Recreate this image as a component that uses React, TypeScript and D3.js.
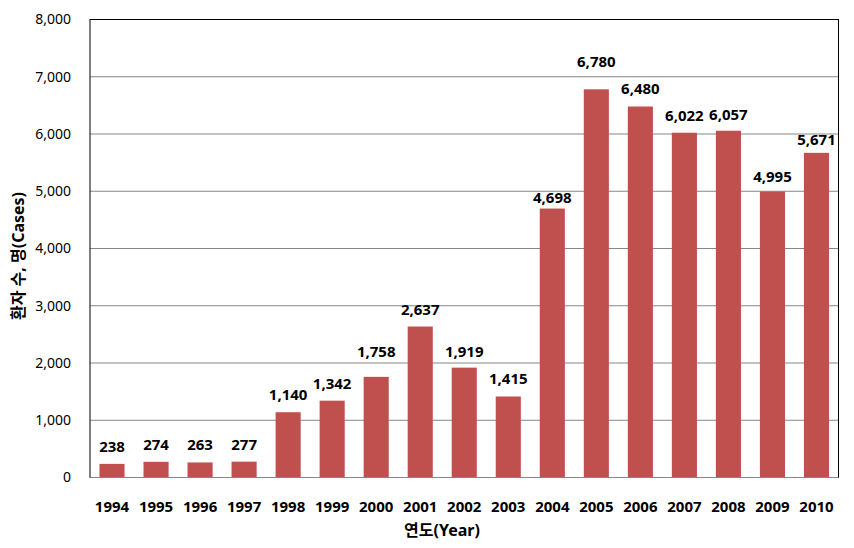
import React from "react";
import * as d3 from "d3";

const years = ["1994","1995","1996","1997","1998","1999","2000","2001","2002","2003","2004","2005","2006","2007","2008","2009","2010"];
const cases = [238, 274, 263, 277, 1140, 1342, 1758, 2637, 1919, 1415, 4698, 6780, 6480, 6022, 6057, 4995, 5671];
const yTicks = [0, 1000, 2000, 3000, 4000, 5000, 6000, 7000, 8000];
// gap (px) between bar top and its value label baseline, as placed in the reference
const labelGap = [12, 12, 12, 12, 12, 12, 20, 12, 11, 12, 6, 22, 13, 12, 11, 10, 8];

const xTitle = "연도(Year)";
const yTitle = "환자 수, 명(Cases)";

const W = 854, H = 548;
const M = { left: 90, right: 15.5, top: 19.5, bottom: 70.5 };
const FONT = '"Noto Sans", "Noto Sans CJK KR", sans-serif';

export default function App() {
  const x = d3.scaleBand<string>().domain(years).range([M.left, W - M.right]).paddingInner(0.43).paddingOuter(0.215);
  const y = d3.scaleLinear().domain([0, 8000]).range([H - M.bottom, M.top]);
  const fmt = d3.format(",");
  const plotW = W - M.left - M.right;
  const plotH = H - M.top - M.bottom;
  return (
    <svg width={W} height={H} style={{ position: "absolute", left: 0, top: 0, background: "#fff" }} fontFamily={FONT}>
      <rect x={0} y={0} width={W} height={H} fill="#fff" />
      {yTicks.filter(t => t > 0 && t < 8000).map(t => (
        <line key={t} x1={M.left} x2={W - M.right} y1={y(t)} y2={y(t)} stroke="#868686" strokeWidth={1} />
      ))}
      {years.map((yr, i) => (
        <rect key={yr} x={x(yr)} y={y(cases[i])} width={x.bandwidth()} height={y(0) - y(cases[i])} fill="#C0504D" />
      ))}
      <rect x={M.left} y={M.top} width={plotW} height={plotH} fill="none" stroke="#000" strokeWidth={1} />
      <line x1={M.left} x2={W - M.right} y1={y(0)} y2={y(0)} stroke="#868686" strokeWidth={1} />
      {yTicks.map(t => (
        <text key={t} x={M.left - 19} y={y(t)} dy="0.35em" textAnchor="end" fontSize={14} fill="#000">{fmt(t)}</text>
      ))}
      {years.map(yr => (
        <text key={yr} x={(x(yr) as number) + x.bandwidth() / 2} y={511.5} textAnchor="middle" fontSize={15} fontWeight="bold" fill="#000">{yr}</text>
      ))}
      {years.map((yr, i) => (
        <text key={yr} x={(x(yr) as number) + x.bandwidth() / 2} y={y(cases[i]) - labelGap[i]} textAnchor="middle" fontSize={15} fontWeight="bold" fill="#000">{fmt(cases[i])}</text>
      ))}
      <text x={442} y={536} textAnchor="middle" fontSize={16} fontWeight="bold" fill="#000">{xTitle}</text>
      <text transform={`translate(24,${256}) rotate(-90)`} textAnchor="middle" fontSize={16} fontWeight="bold" fill="#000">{yTitle}</text>
    </svg>
  );
}
